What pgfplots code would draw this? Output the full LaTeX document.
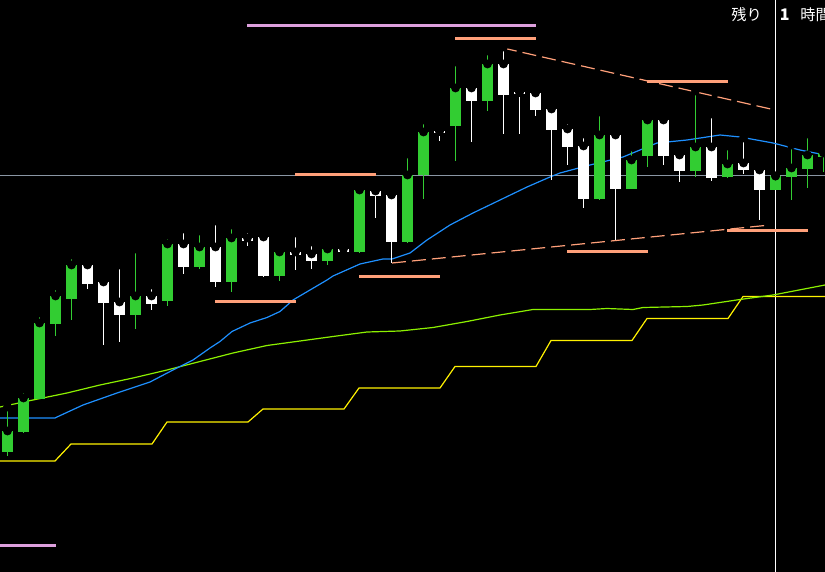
\documentclass[border=0pt]{standalone}
\usepackage{pgfplots}
\usepackage{pgfplotstable}
\pgfplotsset{compat=1.18}
\usepackage{fontspec}
\newfontfamily\cjk{Noto Sans CJK JP}

\definecolor{bull}{HTML}{32CD32}
\definecolor{maBlue}{HTML}{1E90FF}
\definecolor{maGreen}{HTML}{8CF000}
\definecolor{salmon}{HTML}{FFA07A}
\definecolor{plum}{HTML}{DDA0DD}
\definecolor{level}{HTML}{8A96A4}

% candles in screen units: x, body top, body bottom, high, low
\pgfplotstableread{
x     top   bot   hi    lo
7.5   431   452   407   456
23.5  398   432   389   433
39.5  323   399   313   399
55.5  296   324   286   336
71.5  265   299   255   320
135.5 296   315   249   329
167.5 244   301   235   306
199.5 247   267   231   269
231.5 238   282   225   292
279.5 252   276   249   281
327.5 249   261   244   265
359.5 190   252   184   253
407.5 175   242   154   243
423.5 132   175   120   199
455.5 88    126   62    161
487.5 64    101   51    111
599.5 135   199   112   200
631.5 160   189   147   189
647.5 120   156   115   167
695.5 147   171   91    177
727.5 164   177   146   178
775.5 176   190   176   190
791.5 168   177   145   200
807.5 155   169   134   188
823.5 153   157   151   172
}\greencandles

\pgfplotstableread{
x     top   bot   hi    lo
87.5  265   284   262   289
103.5 282   303   274   345
119.5 302   315   265   342
151.5 296   304   285   310
183.5 244   267   229   274
215.5 247   282   221   287
247.5 238   241   229   246
263.5 237   276   231   277
295.5 252   255   233   270
311.5 254   261   242   269
343.5 249   252   247   252
375.5 191   196   186   218
391.5 195   242   194   263
439.5 131.5 133   129   141
471.5 88    101   81    142
503.5 64    95    47    134
519.5 92.5  94    85    134
535.5 93    110   87    116
551.5 109   130   102   180
567.5 129   147   120   165
583.5 146   199   134   208
615.5 135   189   133   240
663.5 120   156   118   165
679.5 155   171   151   182
711.5 147   178   114   181
743.5 163   170   138   174
759.5 170   190   168   220
}\whitecandles

\begin{document}
\begin{tikzpicture}
\begin{axis}[
    width=412.5pt, height=286pt, scale only axis,
    xmin=0, xmax=825, ymin=0, ymax=572,
    y dir=reverse,
    hide axis,
    clip=true,
  ]
  \fill[black] (rel axis cs:0,0) rectangle (rel axis cs:1,1);
  \coordinate (ll) at (rel axis cs:0,0);
  \coordinate (ur) at (rel axis cs:1,1);

  % level line and cursor line
  \addplot[level, line width=0.5pt] coordinates {(0,175.5)(825,175.5)};
  \addplot[white, line width=0.6pt] coordinates {(775.5,0)(775.5,572)};

  % step line
  \addplot[yellow, line width=0.6pt] coordinates {
    (0,461)(55,461)(71,444)(152,444)(167,422)(248,422)(263,409)
    (344,409)(359,388)(440,388)(455,366.5)(536,366.5)(551,340.5)
    (632,340.5)(647,318.5)(728,318.5)(743,296.5)(825,296.5)};

  % slow average
  \addplot[maGreen, line width=0.6pt] coordinates {
    (0,407)(33,400)(67,393)(100,385)(133,378)(167,370)(200,361.5)
    (233,353)(267,345.5)(300,341)(333,336.5)(367,332)(400,331)
    (433,327.5)(467,321.5)(500,315)(533,309.5)(590,309.5)(607,308.5)
    (633,309.5)(643,307.5)(687,306.5)(703,305)(740,299.5)(773,295)(825,285)};

  % fast average
  \addplot[maBlue, line width=0.6pt] coordinates {
    (0,418)(55,418)(57,417)(83,405)(117,393)(150,382)(173,370)(193,360)
    (210,348)(220,341.5)(232,331.5)(250,323)(267,317.5)(280,311.5)
    (293,300)(310,290)(327,280)(333,276)(360,264)(383,259)(392,259)
    (410,253)(427,240)(450,225)(473,213)(500,200)(527,187)(550,177)
    (560,173)(590,165)(623,157)(657,143)(687,140)(720,135)(740,137)
    (773,143)(800,150)(825,155)};

  % trend lines
  \addplot[salmon, line width=0.6pt, dash pattern=on 7pt off 3pt]
    coordinates {(503,48)(775,110)};
  \addplot[salmon, line width=0.6pt, dash pattern=on 7pt off 3pt]
    coordinates {(392,263)(770,225)};

  % short level segments
  \addplot[salmon, line width=1.5pt] coordinates {(295,175)(376,175)};
  \addplot[salmon, line width=1.5pt] coordinates {(215,302)(296,302)};
  \addplot[salmon, line width=1.5pt] coordinates {(359,277)(440,277)};
  \addplot[salmon, line width=1.5pt] coordinates {(455,39)(536,39)};
  \addplot[salmon, line width=1.5pt] coordinates {(647,82)(728,82)};
  \addplot[salmon, line width=1.5pt] coordinates {(567,252)(648,252)};
  \addplot[salmon, line width=1.5pt] coordinates {(727,231)(808,231)};
  \addplot[plum, line width=1.5pt] coordinates {(247,26)(536,26)};
  \addplot[plum, line width=1.5pt] coordinates {(0,545)(56,545)};

  % wicks
  \addplot[only marks, mark=none, error bars/.cd, y dir=plus, y explicit,
    error mark=none, error bar style={bull, line width=0.55pt}]
    table[x=x, y=hi, y error expr=\thisrow{lo}-\thisrow{hi}] {\greencandles};
  \addplot[only marks, mark=none, error bars/.cd, y dir=plus, y explicit,
    error mark=none, error bar style={white, line width=0.55pt}]
    table[x=x, y=hi, y error expr=\thisrow{lo}-\thisrow{hi}] {\whitecandles};
  % bodies
  \addplot[only marks, mark=none, error bars/.cd, y dir=plus, y explicit,
    error mark=none, error bar style={bull, line width=5.3pt}]
    table[x=x, y=top, y error expr=\thisrow{bot}-\thisrow{top}] {\greencandles};
  \addplot[only marks, mark=none, error bars/.cd, y dir=plus, y explicit,
    error mark=none, error bar style={white, line width=5.3pt}]
    table[x=x, y=top, y error expr=\thisrow{bot}-\thisrow{top}] {\whitecandles};

  % countdown label
  \node[anchor=base west, text=white, inner sep=0pt, font=\cjk\fontsize{7.6}{9}\selectfont]
    at (axis cs:731,21) {残り};
  \node[anchor=base west, text=white, inner sep=0pt, font=\cjk\bfseries\fontsize{8}{9}\selectfont]
    at (axis cs:779.5,21) {1};
  \node[anchor=base west, text=white, inner sep=0pt, font=\cjk\fontsize{7.6}{9}\selectfont]
    at (axis cs:800,21) {時間};
\end{axis}
\pgfresetboundingbox
\useasboundingbox (ll) rectangle (ur);
\end{tikzpicture}
\end{document}
